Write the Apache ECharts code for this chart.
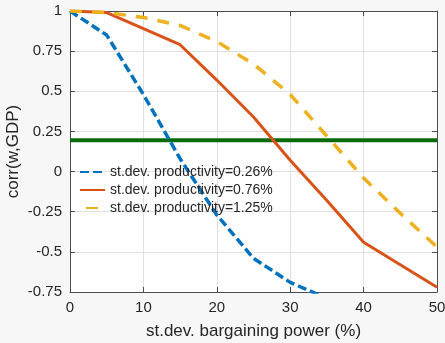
<!DOCTYPE html>
<html>
<head>
<meta charset="utf-8">
<script src="https://cdn.jsdelivr.net/npm/echarts@6/dist/echarts.min.js"></script>
<style>
html,body{margin:0;padding:0;background:#f7f7f7;}
#c{width:445px;height:343px;}
</style>
</head>
<body>
<div id="c"></div>
<script>
var xValues = [0, 5, 10, 15, 20, 25, 30, 35, 40, 45, 50];
var blueValues = [1.0, 0.85, 0.48, 0.08, -0.27, -0.54, -0.69, -0.79];
var orangeValues = [1.0, 0.99, 0.89, 0.79, 0.57, 0.34, 0.07, -0.18, -0.44, -0.58, -0.72];
var yellowValues = [1.0, 0.99, 0.96, 0.91, 0.81, 0.67, 0.48, 0.22, -0.04, -0.26, -0.47];
var refLevel = 0.195;
var seriesNames = ['st.dev. productivity=0.26%', 'st.dev. productivity=0.76%', 'st.dev. productivity=1.25%'];
var xTicks = [0, 10, 20, 30, 40, 50];
var yTicks = [-0.75, -0.5, -0.25, 0, 0.25, 0.5, 0.75, 1];

function pairs(vals) {
  return vals.map(function (v, i) { return [xValues[i], v]; });
}

var chart = echarts.init(document.getElementById('c'), null, {renderer: 'canvas'});
var txt = '#262626';
var axisCol = '#4d4d4d';
var font = 'Liberation Sans, Arial, Helvetica, sans-serif';

function baseX(pos, showLabels) {
  return {
    type: 'value', position: pos, min: xTicks[0], max: xTicks[xTicks.length - 1], interval: 10,
    axisLine: {show: true, onZero: false, lineStyle: {color: axisCol, width: 1}},
    axisTick: {show: true, inside: true, length: 5, lineStyle: {color: axisCol}},
    axisLabel: {show: showLabels, color: txt, fontSize: 15, fontFamily: font, margin: 8},
    splitLine: {show: showLabels, lineStyle: {color: '#e0e0e0', width: 1}}
  };
}
function baseY(pos, showLabels) {
  return {
    type: 'value', position: pos, min: yTicks[0], max: yTicks[yTicks.length - 1], interval: 0.25,
    axisLine: {show: true, onZero: false, lineStyle: {color: axisCol, width: 1}},
    axisTick: {show: true, inside: true, length: 5, lineStyle: {color: axisCol}},
    axisLabel: {show: showLabels, color: txt, fontSize: 15, fontFamily: font, margin: 8,
      formatter: function (v) { return String(Math.round(v * 100) / 100); }},
    splitLine: {show: showLabels, lineStyle: {color: '#e0e0e0', width: 1}}
  };
}

var x0 = baseX('bottom', true);
x0.name = 'st.dev. bargaining power (%)';
x0.nameLocation = 'middle';
x0.nameGap = 31;
x0.nameMoveOverlap = false;
x0.nameTextStyle = {color: txt, fontSize: 17, fontFamily: font};
var x1 = baseX('top', false);

var y0 = baseY('left', true);
y0.name = 'corr(w,GDP)';
y0.nameLocation = 'middle';
y0.nameGap = 48;
y0.nameMoveOverlap = false;
y0.nameTextStyle = {color: txt, fontSize: 17, fontFamily: font};
var y1 = baseY('right', false);

var option = {
  backgroundColor: '#f7f7f7',
  animation: false,
  grid: {left: 70, right: 8, top: 11, bottom: 51, show: true, backgroundColor: '#ffffff', borderWidth: 0,
    containLabel: false, outerBoundsMode: 'none'},
  xAxis: [x0, x1],
  yAxis: [y0, y1],
  legend: {
    data: [
      {name: seriesNames[0]},
      {name: seriesNames[1]},
      {name: seriesNames[2], lineStyle: {dashOffset: 16}}
    ],
    orient: 'vertical',
    left: 74, top: 160,
    itemWidth: 25, itemHeight: 14, itemGap: 4,
    backgroundColor: 'transparent',
    itemStyle: {opacity: 0, borderWidth: 0},
    textStyle: {color: txt, fontSize: 14, fontFamily: font}
  },
  series: [
    {name: 'ref', type: 'line', data: [[xTicks[0], refLevel], [xTicks[xTicks.length - 1], refLevel]],
      symbol: 'none', lineStyle: {color: '#0a6b0a', width: 4}, z: 1},
    {name: seriesNames[0], type: 'line', data: pairs(blueValues), symbol: 'none',
      itemStyle: {color: '#0072BD'}, lineStyle: {color: '#0072BD', width: 3.5, type: [9, 4]}, z: 3},
    {name: seriesNames[1], type: 'line', data: pairs(orangeValues), symbol: 'none',
      itemStyle: {color: '#D95319'}, lineStyle: {color: '#D95319', width: 3, type: 'solid'}, z: 3},
    {name: seriesNames[2], type: 'line', data: pairs(yellowValues), symbol: 'none',
      itemStyle: {color: '#EDB120'}, lineStyle: {color: '#EDB120', width: 3.5, type: [12, 10]}, z: 3}
  ]
};
chart.setOption(option);
</script>
</body>
</html>
